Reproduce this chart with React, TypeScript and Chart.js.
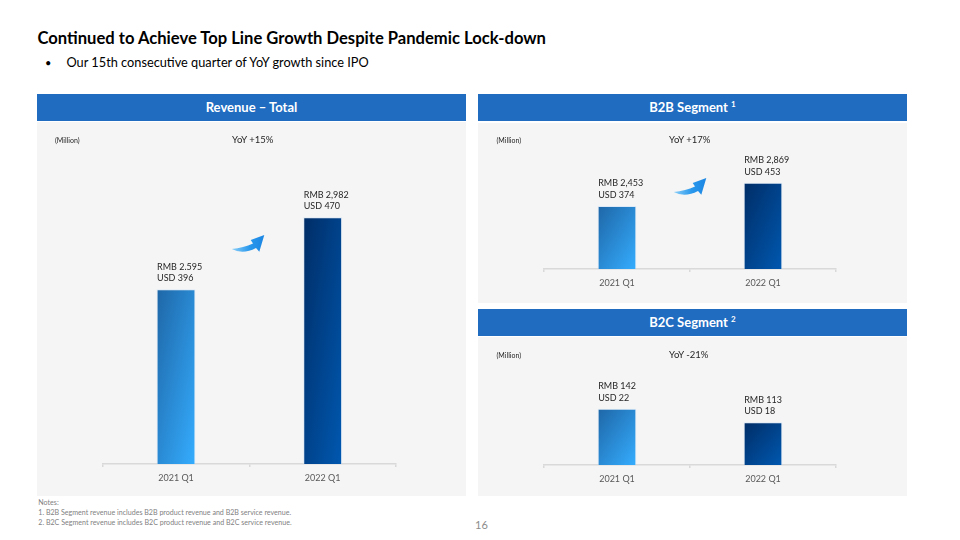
import React, { useEffect, useRef } from "react";
import { Chart, registerables } from "chart.js";

Chart.register(...registerables);

// ---------- data ----------
const categories = ["2021 Q1", "2022 Q1"];

const totalRmb = [2595, 2982];
const totalRmbLabels = ["RMB 2.595", "RMB 2,982"];
const totalUsd = [396, 470];

const b2bRmb = [2453, 2869];
const b2bRmbLabels = ["RMB 2,453", "RMB 2,869"];
const b2bUsd = [374, 453];

const b2cRmb = [142, 113];
const b2cRmbLabels = ["RMB 142", "RMB 113"];
const b2cUsd = [22, 18];

const notes = [
  "Notes:",
  "1. B2B Segment revenue includes B2B product revenue and B2B service revenue.",
  "2. B2C Segment revenue includes B2C product revenue and B2C service revenue.",
];

// ---------- styles ----------
const FONT = "Lato, 'Open Sans', sans-serif";
const HEADER_BLUE = "#1F6CC1";
const PANEL_GRAY = "#F5F5F5";
const BAR_PCT = 0.265;
const barStops = [
  ["#1E66A6", "#35ADFF"],
  ["#002D66", "#0058B0"],
];

function barFill(ctx: any) {
  const chart = ctx.chart;
  const i = ctx.dataIndex ?? 0;
  const stops = barStops[i % 2];
  const xs = chart.scales?.x;
  const ys = chart.scales?.y;
  const area = chart.chartArea;
  if (!xs || !ys || !area || ctx.raw == null) return stops[1];
  const cx = xs.getPixelForValue(i);
  const w = ((area.right - area.left) / categories.length) * BAR_PCT;
  const left = cx - w / 2;
  const top = ys.getPixelForValue(ctx.raw);
  const h = Math.max(1, area.bottom - top);
  // shape-scaled 45deg gradient (isolines parallel to the anti-diagonal)
  const f = (2 * w * h) / (h * h + w * w);
  const g = chart.ctx.createLinearGradient(left, top, left + f * h, top + f * w);
  g.addColorStop(0, stops[0]);
  g.addColorStop(1, stops[1]);
  return g;
}

function labelPlugin(rmb: string[], usd: number[]) {
  return {
    id: "barLabels",
    afterDatasetsDraw(chart: any) {
      const meta = chart.getDatasetMeta(0);
      const c = chart.ctx;
      c.save();
      c.font = `9px ${FONT}`;
      c.fillStyle = "#262626";
      c.textAlign = "left";
      c.textBaseline = "middle";
      meta.data.forEach((bar: any, i: number) => {
        const { x, y, width } = bar.getProps(["x", "y", "width"], true);
        const left = x - width / 2 + 0.5;
        c.fillText(rmb[i], left, y - 22.5);
        c.fillText("USD " + usd[i], left, y - 11);
      });
      c.restore();
    },
  };
}

function makeConfig(
  values: number[],
  rmbLabels: string[],
  usd: number[],
  yMin: number,
  yMax: number,
  padding: any,
  axisH: number
): any {
  return {
    type: "bar",
    data: {
      labels: categories,
      datasets: [
        {
          data: values,
          backgroundColor: barFill,
          borderColor: "rgba(200,222,245,0.55)",
          borderWidth: 1,
          barPercentage: BAR_PCT,
          categoryPercentage: 1,
        },
      ],
    },
    options: {
      responsive: false,
      animation: false,
      layout: { padding },
      plugins: { legend: { display: false }, tooltip: { enabled: false } },
      scales: {
        x: {
          offset: true,
          grid: {
            display: true,
            offset: true,
            drawOnChartArea: false,
            color: "#D9D9D9",
            lineWidth: 1.5,
            tickLength: 3,
          },
          border: { display: true, color: "#D9D9D9", width: 1.5 },
          ticks: {
            color: "#595959",
            font: { family: FONT, size: 9 },
            padding: 6,
          },
          afterFit: (s: any) => {
            s.height = axisH;
          },
        },
        y: { display: false, min: yMin, max: yMax },
      },
    },
    plugins: [labelPlugin(rmbLabels, usd)],
  };
}

function BarCanvas(props: {
  config: any;
  left: number;
  top: number;
  width: number;
  height: number;
}) {
  const ref = useRef<HTMLCanvasElement | null>(null);
  useEffect(() => {
    let chart: Chart | null = null;
    let alive = true;
    const make = () => {
      if (!alive || !ref.current) return;
      chart = new Chart(ref.current, props.config);
    };
    if ((document as any).fonts && (document as any).fonts.load) {
      (document as any).fonts.load(`10px Lato`).then(make, make);
    } else make();
    return () => {
      alive = false;
      if (chart) chart.destroy();
    };
  }, []);
  return (
    <canvas
      ref={ref}
      width={props.width}
      height={props.height}
      style={{
        position: "absolute",
        left: props.left,
        top: props.top,
        width: props.width,
        height: props.height,
      }}
    />
  );
}

function T(props: {
  x: number;
  y: number;
  size: number;
  children: any;
  weight?: number;
  color?: string;
  center?: boolean;
}) {
  const { x, y, size, children, weight = 400, color = "#000", center } = props;
  return (
    <div
      style={{
        position: "absolute",
        left: x,
        top: y - size * 0.55,
        fontSize: size,
        lineHeight: `${size}px`,
        fontWeight: weight,
        color,
        whiteSpace: "nowrap",
        fontFamily: FONT,
        transform: center ? "translateX(-50%)" : undefined,
      }}
    >
      {children}
    </div>
  );
}

function Arrow({ x, y }: { x: number; y: number }) {
  const id = `ag${x}`;
  return (
    <svg
      width={36}
      height={22}
      style={{ position: "absolute", left: x, top: y, overflow: "visible" }}
    >
      <defs>
        <linearGradient id={id} x1="0" y1="0" x2="1" y2="0">
          <stop offset="0" stopColor="#8ACFF8" />
          <stop offset="0.55" stopColor="#2A98EC" />
          <stop offset="1" stopColor="#1C86E3" />
        </linearGradient>
      </defs>
      <path
        d="M0.7,15 Q12.6,13.6 22,9.5 L19.7,6 L33.3,1 L28.3,17.7 L25,14 Q11.8,20.9 0.7,15 Z"
        fill={`url(#${id})`}
      />
    </svg>
  );
}

function Header({ x, w, y, h, children }: any) {
  return (
    <div
      style={{
        position: "absolute",
        left: x,
        top: y,
        width: w,
        height: h,
        background: HEADER_BLUE,
        color: "#fff",
        fontFamily: FONT,
        fontWeight: 700,
        fontSize: 13,
        lineHeight: `${h}px`,
        textAlign: "center",
        whiteSpace: "nowrap",
      }}
    >
      {children}
    </div>
  );
}

function Panel({ x, y, w, h }: any) {
  return (
    <div
      style={{
        position: "absolute",
        left: x,
        top: y,
        width: w,
        height: h,
        background: PANEL_GRAY,
      }}
    />
  );
}

const totalConfig = makeConfig(
  totalRmb,
  totalRmbLabels,
  totalUsd,
  1656,
  3333,
  { left: 65.7, right: 70, top: 30, bottom: 0 },
  32
);
const b2bConfig = makeConfig(
  b2bRmb,
  b2bRmbLabels,
  b2bUsd,
  1328,
  3399,
  { left: 66, right: 71, top: 30, bottom: 2 },
  32
);
const b2cConfig = makeConfig(
  b2cRmb,
  b2cRmbLabels,
  b2cUsd,
  22,
  231,
  { left: 66, right: 71, top: 30, bottom: 0 },
  31
);

export default function App() {
  const sup = { fontSize: 8, verticalAlign: "top", lineHeight: "20px" } as any;
  return (
    <div
      style={{
        position: "absolute",
        left: 0,
        top: 0,
        width: 960,
        height: 540,
        background: "#fff",
        overflow: "hidden",
        fontFamily: FONT,
      }}
    >
      <T x={37.5} y={39.5} size={16.6} weight={700}>
        Continued to Achieve Top Line Growth Despite Pandemic Lock-down
      </T>
      <T x={45} y={63} size={11}>
        •
      </T>
      <T x={66.5} y={63} size={12.75}>
        Our 15th consecutive quarter of YoY growth since IPO
      </T>

      {/* left panel */}
      <Header x={37} w={429} y={94} h={26.5}>
        Revenue – Total
      </Header>
      <Panel x={37} y={122} w={429} h={374} />

      {/* right panels */}
      <Header x={478} w={429} y={94} h={26.5}>
        B2B Segment <span style={sup}>1</span>
      </Header>
      <Panel x={478} y={123} w={429} h={180} />
      <Header x={478} w={429} y={309} h={26.5}>
        B2C Segment <span style={sup}>2</span>
      </Header>
      <Panel x={478} y={337} w={429} h={159} />

      <BarCanvas config={totalConfig} left={37} top={122} width={429} height={374} />
      <BarCanvas config={b2bConfig} left={478} top={123} width={429} height={180} />
      <BarCanvas config={b2cConfig} left={478} top={337} width={429} height={159} />

      <T x={55} y={141.3} size={7} color="#262626">
        (Million)
      </T>
      <T x={232} y={140} size={9.5} color="#262626">
        YoY +15%
      </T>
      <T x={496.5} y={141} size={7} color="#262626">
        (Million)
      </T>
      <T x={669} y={140} size={9.5} color="#262626">
        YoY +17%
      </T>
      <T x={496.5} y={356} size={7} color="#262626">
        (Million)
      </T>
      <T x={669} y={355} size={9.5} color="#262626">
        YoY -21%
      </T>

      <Arrow x={231} y={234} />
      <Arrow x={673} y={177} />

      <T x={38.3} y={503.3} size={7.1} color="#7F7F7F">
        {notes[0]}
      </T>
      <T x={38.3} y={513.3} size={7.1} color="#7F7F7F">
        {notes[1]}
      </T>
      <T x={38.3} y={523} size={7.1} color="#7F7F7F">
        {notes[2]}
      </T>
      <T x={475} y={525.5} size={11} color="#8C8C8C">
        16
      </T>
    </div>
  );
}
